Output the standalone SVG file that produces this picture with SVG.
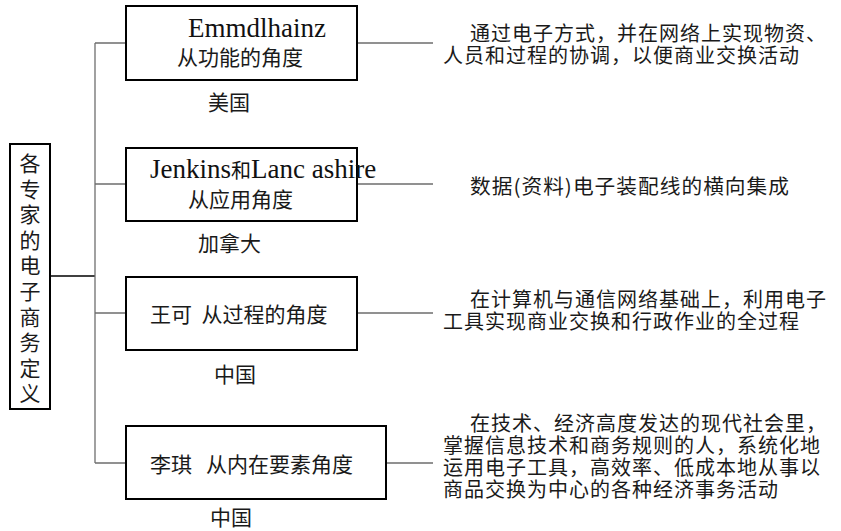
<svg xmlns="http://www.w3.org/2000/svg" width="841" height="531" viewBox="0 0 841 531">
<style>
.box{fill:#fff;stroke:#000;stroke-width:2}
.cn{font-family:"Noto Sans CJK SC","Noto Sans",sans-serif;font-size:21px;fill:#1a1a1a;dominant-baseline:central}
.ds{font-family:"Noto Sans CJK SC","Noto Sans",sans-serif;font-size:20px;letter-spacing:1px;fill:#1a1a1a;dominant-baseline:central}
.lat{font-family:"Liberation Serif","Noto Sans CJK SC",serif;font-size:27px;fill:#111}
.lat tspan.c{font-family:"Noto Sans CJK SC",sans-serif;font-size:20px}
.ln{fill:none;stroke:#6e6e6e;stroke-width:1.3}
.lk{fill:none;stroke:#000;stroke-width:1.3}
</style>
<rect width="841" height="531" fill="#fff"/>
<g id="connectors">
<path class="lk" d="M50,276 H95"/>
<path class="ln" d="M95,43 V463"/>
<path class="ln" d="M95,43 H126 M95,184 H126 M95,313 H126 M95,463 H126"/>
<path class="ln" d="M357,43 H433 M357,184 H433 M357,313 H433 M386,463 H433"/>
</g>
<g id="root">
<rect class="box" x="10" y="144" width="40" height="265"/>
<text class="cn" text-anchor="middle">
<tspan x="30" y="162">各</tspan><tspan x="30" y="187.6">专</tspan><tspan x="30" y="213.2">家</tspan><tspan x="30" y="238.8">的</tspan><tspan x="30" y="264.4">电</tspan><tspan x="30" y="290">子</tspan><tspan x="30" y="315.6">商</tspan><tspan x="30" y="341.2">务</tspan><tspan x="30" y="366.8">定</tspan><tspan x="30" y="392.4">义</tspan>
</text>
</g>
<g id="node1">
<rect class="box" x="126" y="6" width="231" height="74"/>
<text class="lat" x="188" y="37">Emmdlhainz</text>
<text class="cn" x="177" y="56">从功能的角度</text>
<text class="cn" x="208" y="101">美国</text>
</g>
<g id="desc1">
<text class="ds"><tspan x="470" y="32">通过电子方式，并在网络上实现物资、</tspan><tspan x="443" y="54">人员和过程的协调，以便商业交换活动</tspan></text>
</g>
<g id="node2">
<rect class="box" x="126" y="148" width="231" height="73"/>
<text class="lat" x="150" y="178">Jenkins<tspan class="c">和</tspan>Lanc ashire</text>
<text class="cn" x="188" y="198">从应用角度</text>
<text class="cn" x="198" y="242">加拿大</text>
</g>
<g id="desc2">
<text class="ds" x="470" y="185" textLength="320" lengthAdjust="spacingAndGlyphs">数据(资料)电子装配线的横向集成</text>
</g>
<g id="node3">
<rect class="box" x="126" y="277" width="231" height="73"/>
<text class="cn" x="150" y="313" xml:space="preserve">王可  从过程的角度</text>
<text class="cn" x="214" y="373">中国</text>
</g>
<g id="desc3">
<text class="ds"><tspan x="470" y="298">在计算机与通信网络基础上，利用电子</tspan><tspan x="443" y="320">工具实现商业交换和行政作业的全过程</tspan></text>
</g>
<g id="node4">
<rect class="box" x="126" y="426" width="260" height="73"/>
<text class="cn" x="150" y="463" xml:space="preserve">李琪   从内在要素角度</text>
<text class="cn" x="210" y="516">中国</text>
</g>
<g id="desc4">
<text class="ds"><tspan x="470" y="422">在技术、经济高度发达的现代社会里，</tspan><tspan x="443" y="444">掌握信息技术和商务规则的人，系统化地</tspan><tspan x="443" y="466">运用电子工具，高效率、低成本地从事以</tspan><tspan x="443" y="488">商品交换为中心的各种经济事务活动</tspan></text>
</g>
</svg>
